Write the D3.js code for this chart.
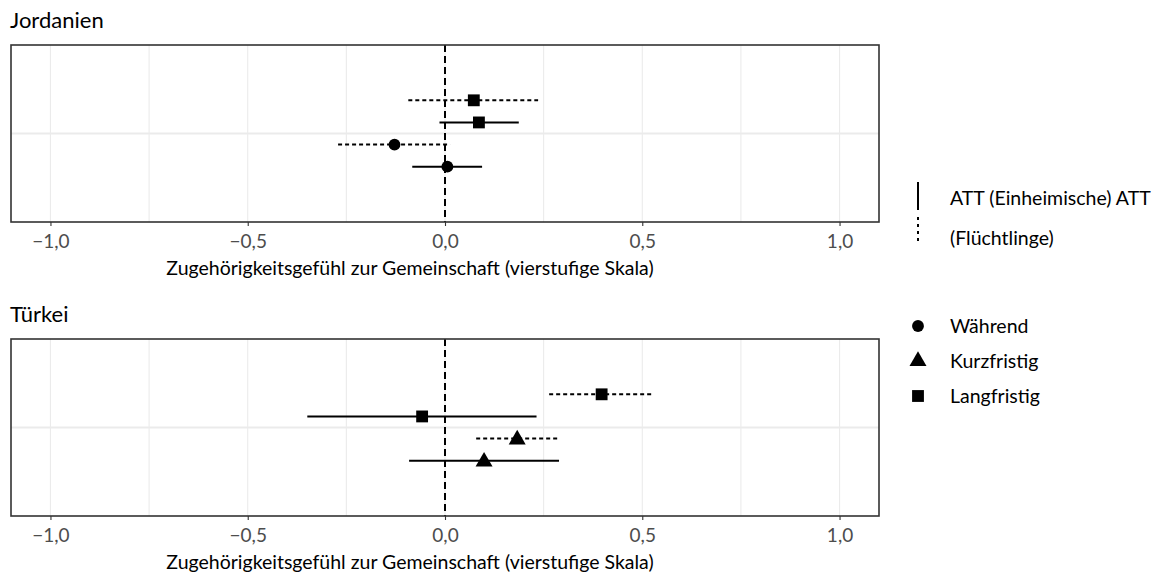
<!DOCTYPE html>
<html>
<head>
<meta charset="utf-8">
<script src="https://cdn.jsdelivr.net/npm/d3@7"></script>
<style>
  html, body { margin: 0; padding: 0; background: #fff; }
  svg { display: block; font-family: Lato, "Open Sans", sans-serif; }
</style>
</head>
<body>
<svg id="chart" width="1153" height="574"></svg>
<script>
// Treatment effects (ATT) on sense of belonging, by country, timing and group
const countries = ["Jordanien", "Türkei"];
const timings = ["Während", "Kurzfristig", "Langfristig"];
const groups = ["ATT (Einheimische)", "ATT (Flüchtlinge)"];
const xTicks = [-1.0, -0.5, 0.0, 0.5, 1.0];

// Jordanien: rows listed bottom to top (dodge order)
const jorTiming = ["Während", "Während", "Langfristig", "Langfristig"];
const jorGroup = ["ATT (Einheimische)", "ATT (Flüchtlinge)", "ATT (Einheimische)", "ATT (Flüchtlinge)"];
const jorEst = [0.006, -0.128, 0.086, 0.073];
const jorLow = [-0.083, -0.271, -0.014, -0.093];
const jorHigh = [0.094, 0.013, 0.187, 0.236];

// Türkei: rows listed bottom to top (dodge order)
const turTiming = ["Kurzfristig", "Kurzfristig", "Langfristig", "Langfristig"];
const turGroup = ["ATT (Einheimische)", "ATT (Flüchtlinge)", "ATT (Einheimische)", "ATT (Flüchtlinge)"];
const turEst = [0.099, 0.183, -0.058, 0.397];
const turLow = [-0.091, 0.079, -0.349, 0.264];
const turHigh = [0.289, 0.286, 0.232, 0.529];

const axisTitle = "Zugehörigkeitsgefühl zur Gemeinschaft (vierstufige Skala)";

const rows = (timing, group, est, low, high) =>
  est.map((e, i) => ({ timing: timing[i], group: group[i], est: e, low: low[i], high: high[i], slot: i }));

const panelData = [
  rows(jorTiming, jorGroup, jorEst, jorLow, jorHigh),
  rows(turTiming, turGroup, turEst, turLow, turHigh)
];

const svg = d3.select("#chart");
const fmt = v => d3.format(".1f")(v).replace(".", ",").replace("-", "\u2212");

const panelLeft = 11, panelRight = 879;
const panelTops = [45, 339];
const panelH = 177;

const x = d3.scaleLinear().domain([-1.1, 1.1]).range([panelLeft, panelRight]);

const dashFor = d3.scaleOrdinal().domain(groups).range([null, "4,3"]);
const shapeFor = d3.scaleOrdinal().domain(timings)
  .range([d3.symbolCircle, d3.symbolTriangle, d3.symbolSquare]);
const sizeFor = d3.scaleOrdinal().domain(timings).range([110, 125, 140]);

const dodgeWidth = 0.6;
const nSlots = 4;

countries.forEach((name, p) => {
  const top = panelTops[p];
  const bottom = top + panelH;
  const y = d3.scaleLinear().domain([0.4, 1.6]).range([bottom, top]);
  const slotY = s => y(1 - dodgeWidth / 2 + dodgeWidth / nSlots * (s + 0.5));

  const g = svg.append("g");

  // panel title
  g.append("text")
    .attr("x", 10).attr("y", top - 17)
    .attr("font-size", 22).attr("fill", "#000")
    .text(name);

  // grid
  const minor = d3.range(-1.0, 1.01, 0.25);
  g.selectAll(".gx").data(minor).join("line")
    .attr("x1", d => x(d)).attr("x2", d => x(d))
    .attr("y1", top).attr("y2", bottom)
    .attr("stroke", "#EBEBEB").attr("stroke-width", 1.1);
  g.append("line")
    .attr("x1", panelLeft).attr("x2", panelRight)
    .attr("y1", y(1)).attr("y2", y(1))
    .attr("stroke", "#EBEBEB").attr("stroke-width", 2.2);

  // reference line at zero
  g.append("line")
    .attr("x1", x(0)).attr("x2", x(0))
    .attr("y1", top).attr("y2", bottom)
    .attr("stroke", "#000").attr("stroke-width", 2)
    .attr("stroke-dasharray", "7,4");

  // confidence intervals
  const data = panelData[p];
  g.selectAll(".ci").data(data).join("line")
    .attr("x1", d => x(d.low)).attr("x2", d => x(d.high))
    .attr("y1", d => slotY(d.slot)).attr("y2", d => slotY(d.slot))
    .attr("stroke", "#000").attr("stroke-width", 2)
    .attr("stroke-dasharray", d => dashFor(d.group));

  // point estimates
  g.selectAll(".pt").data(data).join("path")
    .attr("transform", d => `translate(${x(d.est)},${slotY(d.slot) + (d.timing === "Kurzfristig" ? 1 : 0)})`)
    .attr("d", d => d3.symbol(shapeFor(d.timing), sizeFor(d.timing))())
    .attr("fill", "#000");

  // panel border
  g.append("rect")
    .attr("x", panelLeft).attr("y", top)
    .attr("width", panelRight - panelLeft).attr("height", panelH)
    .attr("fill", "none").attr("stroke", "#333333").attr("stroke-width", 1.6);

  // x axis
  const ax = g.append("g").attr("transform", `translate(0,${bottom})`)
    .call(d3.axisBottom(x).tickValues(xTicks).tickFormat(fmt).tickSize(4).tickPadding(4));
  ax.select(".domain").remove();
  ax.selectAll(".tick line").attr("stroke", "#333333").attr("stroke-width", 1.1);
  ax.selectAll(".tick text").attr("font-size", 19).attr("fill", "#4D4D4D")
    .attr("font-family", "Lato, sans-serif").attr("dy", null).attr("y", 26);

  g.append("text")
    .attr("x", 410).attr("y", bottom + 53)
    .attr("text-anchor", "middle")
    .attr("font-size", 19.5).attr("fill", "#000")
    .text(axisTitle);
});

// legend: line type
const lg = svg.append("g").attr("font-size", 19.5);
lg.append("line").attr("x1", 918).attr("x2", 918).attr("y1", 182).attr("y2", 210)
  .attr("stroke", "#000").attr("stroke-width", 2);
lg.append("line").attr("x1", 918).attr("x2", 918).attr("y1", 217).attr("y2", 245)
  .attr("stroke", "#000").attr("stroke-width", 2).attr("stroke-dasharray", "3,4");
lg.append("text").attr("x", 950).attr("y", 205)
  .text(groups[0] + " ATT");
lg.append("text").attr("x", 950).attr("y", 245)
  .text(groups[1].replace("ATT ", ""));

// legend: timing shape
const legendY = d3.scalePoint().domain(timings).range([326, 396]);
lg.selectAll(".sym").data(timings).join("path")
  .attr("transform", d => `translate(918,${legendY(d)})`)
  .attr("d", d => d3.symbol(shapeFor(d), sizeFor(d))())
  .attr("fill", "#000");
lg.selectAll(".lab").data(timings).join("text")
  .attr("x", 950).attr("y", d => legendY(d) + 7)
  .text(d => d);
</script>
</body>
</html>
